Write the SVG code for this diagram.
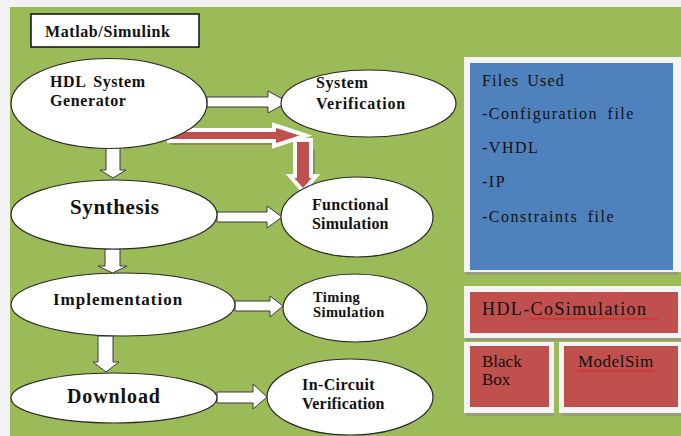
<svg xmlns="http://www.w3.org/2000/svg" width="681" height="436" viewBox="0 0 681 436">
<defs>
<style>
.ell{fill:#ffffff;stroke:#2a2a2a;stroke-width:1.2}
.t{font-family:"Liberation Serif","Times New Roman",serif;font-weight:bold;fill:#111}
.r{font-family:"Liberation Serif","Times New Roman",serif;fill:#111}
.warr{fill:#ffffff;stroke:#3a3a3a;stroke-width:1;stroke-linejoin:miter}
.rarr{fill:#c0504d;stroke:#ffffff;stroke-width:4;stroke-linejoin:miter}
.rsh{fill:#7a5a48;opacity:0.45}
.blue{fill:#4f81bd}
.red{fill:#c0504d}
.frame{fill:#f4f4f4}
.shadow{fill:#9a8f8a;opacity:0.7}
.wave{fill:none;stroke:#e02020;stroke-width:1}
</style>
</defs>
<rect x="0" y="0" width="681" height="436" fill="#f2f2f2"/>
<rect x="10" y="7" width="671" height="429" fill="#9bbb59"/>

<g id="matlab">
<rect x="31" y="14" width="168" height="33" fill="#ffffff" stroke="#111" stroke-width="1.5"/>
<text class="t" x="45" y="37" font-size="16" letter-spacing="0.6">Matlab/Simulink</text>
</g>

<g id="connectors">
<polygon class="warr" points="207,97 268,97 268,91 288,102 268,113 268,107 207,107"/>
<polygon class="warr" points="217,212 267,212 267,206 282,217 267,228 267,222 217,222"/>
<polygon class="warr" points="235,301 270,301 270,296 283,306 270,317 270,311 235,311"/>
<polygon class="warr" points="217,392 253,392 253,384 267,397 253,409 253,403 217,403"/>
<polygon class="warr" points="106,148 120,148 120,170 126,170 113,178 100,170 106,170"/>
<polygon class="warr" points="105,249 120,249 120,266 127,266 112.5,273 98,266 105,266"/>
<polygon class="warr" points="98,336 113,336 113,362 119,362 106,372 93,362 98,362"/>
<polygon class="rsh" points="171,142 276,142 276,145 171,145"/>
<polygon class="rsh" points="312,150 315,150 315,182 312,182"/>
<polygon class="rarr" points="169,130 274,130 274,125 306,135.5 274,146 274,141 169,141"/>
<polygon class="rarr" points="295,140 311,140 311,176 316,176 303,191 290,176 295,176"/>
</g>

<g id="hdl-sysgen">
<ellipse class="ell" cx="109" cy="103.5" rx="98" ry="45"/>
<text class="t" x="50" y="87" font-size="16" letter-spacing="0.6" word-spacing="3">HDL System</text>
<text class="t" x="50" y="106" font-size="16" letter-spacing="0.6">Generator</text>
</g>

<g id="sys-verif">
<ellipse class="ell" cx="368.5" cy="103.5" rx="87.5" ry="33.5"/>
<text class="t" x="316" y="88" font-size="16" letter-spacing="0.6">System</text>
<text class="t" x="316" y="109" font-size="16" letter-spacing="0.8">Verification</text>
</g>

<g id="synthesis">
<ellipse class="ell" cx="114" cy="214.5" rx="103" ry="34.5"/>
<text class="t" x="70" y="214" font-size="21" letter-spacing="0.6">Synthesis</text>
</g>

<g id="func-sim">
<ellipse class="ell" cx="357" cy="217" rx="76" ry="40"/>
<text class="t" x="312" y="210" font-size="16" letter-spacing="0.3">Functional</text>
<text class="t" x="312" y="229" font-size="16" letter-spacing="0.2">Simulation</text>
</g>

<g id="implementation">
<ellipse class="ell" cx="123" cy="304.5" rx="112" ry="31.5"/>
<text class="t" x="53" y="305" font-size="17" letter-spacing="1">Implementation</text>
</g>

<g id="timing-sim">
<ellipse class="ell" cx="355" cy="308" rx="72" ry="34"/>
<text class="t" x="313" y="302" font-size="14.5" letter-spacing="0.4">Timing</text>
<text class="t" x="313" y="317" font-size="14.5" letter-spacing="0.4">Simulation</text>
</g>

<g id="download">
<ellipse class="ell" cx="114" cy="398" rx="103" ry="25"/>
<text class="t" x="67" y="403" font-size="20" letter-spacing="0.9">Download</text>
</g>

<g id="incircuit">
<ellipse class="ell" cx="350" cy="397" rx="83" ry="38"/>
<text class="t" x="302" y="390" font-size="16" letter-spacing="0.4">In-Circuit</text>
<text class="t" x="302" y="409" font-size="16" letter-spacing="0.2">Verification</text>
</g>

<g id="files-used">
<rect class="shadow" x="466" y="271" width="212" height="4"/>
<rect class="frame" x="464" y="57" width="217" height="215"/>
<rect class="blue" x="470" y="63" width="203" height="207"/>
<text class="r" x="482" y="86" font-size="16" letter-spacing="1.2" word-spacing="3">Files Used</text>
<text class="r" x="482" y="119" font-size="16" letter-spacing="1.5" word-spacing="4">-Configuration file</text>
<text class="r" x="482" y="153" font-size="16" letter-spacing="1.5">-VHDL</text>
<text class="r" x="482" y="187" font-size="16" letter-spacing="1.5">-IP</text>
<text class="r" x="482" y="222" font-size="16" letter-spacing="1.5" word-spacing="4">-Constraints file</text>
</g>

<g id="hdl-cosim">
<rect class="shadow" x="466" y="337" width="215" height="4"/>
<rect class="frame" x="464" y="286" width="217" height="52"/>
<rect class="red" x="470" y="292" width="208" height="41"/>
<text class="r" x="482" y="315" font-size="18" letter-spacing="1.4">HDL-CoSimulation</text>
<path class="wave" d="M530,318 l2,1.5 l2,-1.5 l2,1.5 l2,-1.5 l2,1.5 l2,-1.5 l2,1.5 l2,-1.5 l2,1.5 l2,-1.5 l2,1.5 l2,-1.5 l2,1.5 l2,-1.5 l2,1.5 l2,-1.5 l2,1.5 l2,-1.5 l2,1.5 l2,-1.5 l2,1.5 l2,-1.5 l2,1.5 l2,-1.5 l2,1.5 l2,-1.5 l2,1.5 l2,-1.5 l2,1.5 l2,-1.5 l2,1.5 l2,-1.5 l2,1.5 l2,-1.5 l2,1.5 l2,-1.5 l2,1.5 l2,-1.5 l2,1.5 l2,-1.5 l2,1.5 l2,-1.5 l2,1.5 l2,-1.5 l2,1.5 l2,-1.5 l2,1.5 l2,-1.5 l2,1.5 l2,-1.5 l2,1.5 l2,-1.5 l2,1.5 l2,-1.5 l2,1.5 l2,-1.5 l2,1.5 l2,-1.5 l2,1.5 l2,-1.5 l2,1.5 l2,-1.5 l2,1.5 l2,-1.5"/>
</g>

<g id="black-box">
<rect class="shadow" x="466" y="412" width="88" height="4"/>
<rect class="frame" x="464" y="342" width="90" height="71"/>
<rect class="red" x="470" y="346" width="79" height="61"/>
<text class="r" x="482" y="367" font-size="17">Black</text>
<text class="r" x="482" y="385" font-size="17">Box</text>
</g>

<g id="modelsim">
<rect class="shadow" x="561" y="412" width="120" height="4"/>
<rect class="frame" x="559" y="342" width="122" height="71"/>
<rect class="red" x="564" y="346" width="114" height="61"/>
<text class="r" x="578" y="367" font-size="17" letter-spacing="0.5">ModelSim</text>
<path class="wave" d="M578,370 l2,1.5 l2,-1.5 l2,1.5 l2,-1.5 l2,1.5 l2,-1.5 l2,1.5 l2,-1.5 l2,1.5 l2,-1.5 l2,1.5 l2,-1.5 l2,1.5 l2,-1.5 l2,1.5 l2,-1.5 l2,1.5 l2,-1.5 l2,1.5 l2,-1.5 l2,1.5 l2,-1.5 l2,1.5 l2,-1.5 l2,1.5 l2,-1.5 l2,1.5 l2,-1.5 l2,1.5 l2,-1.5 l2,1.5 l2,-1.5 l2,1.5 l2,-1.5 l2,1.5 l2,-1.5 l2,1.5 l2,-1.5"/>
</g>
</svg>
